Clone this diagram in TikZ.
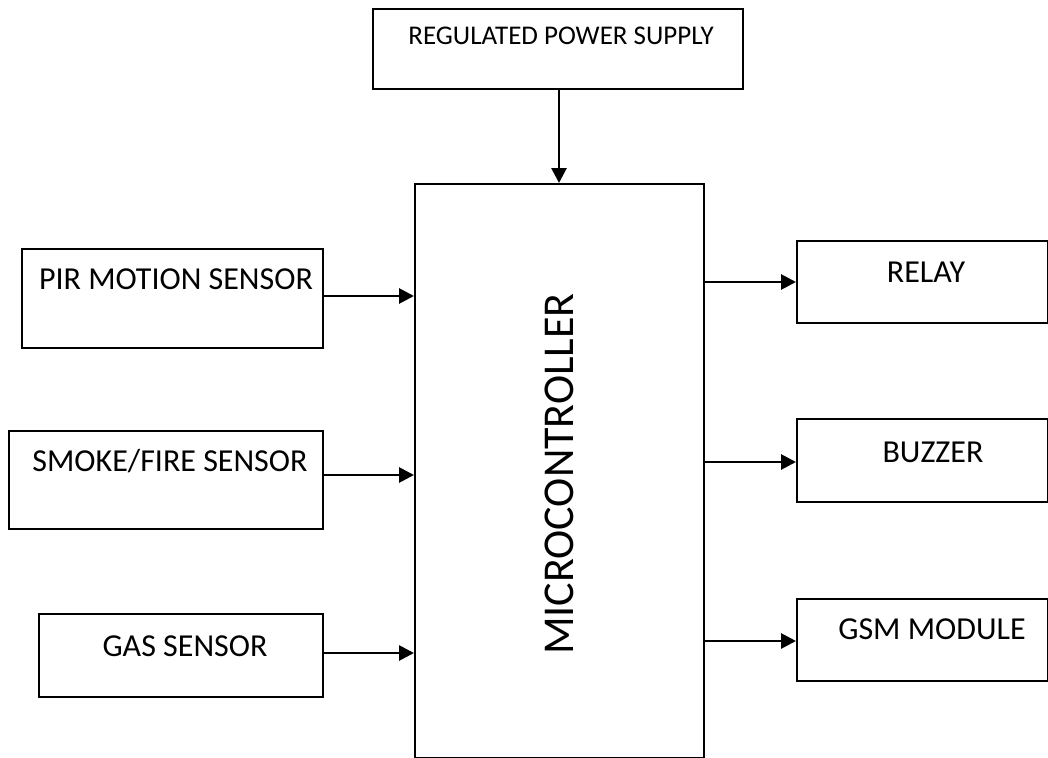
\documentclass[tikz,border=0pt]{standalone}
\usepackage{fontspec}
\setmainfont{Carlito}
\usetikzlibrary{arrows.meta}
\tikzset{
  blk/.style={draw=black, line width=2.4pt, fill=white, inner sep=0pt},
  lbl/.style={anchor=base, inner sep=0pt, font=\fontsize{32}{32}\selectfont},
  arr/.style={line width=2.8pt, -{Triangle[length=15pt,width=15pt]}}
}
\begin{document}
\begin{tikzpicture}[x=1pt,y=-1pt]
\useasboundingbox (0,0) rectangle (1048,757);
% boxes
\node[blk, anchor=north west, minimum width=370pt, minimum height=80pt] (ps) at (372,8) {};
\node[blk, anchor=north west, minimum width=289pt, minimum height=574pt] (mc) at (414,183) {};
\node[blk, anchor=north west, minimum width=301pt, minimum height=99pt] (pir) at (21,248) {};
\node[blk, anchor=north west, minimum width=314pt, minimum height=98pt] (smk) at (8,430) {};
\node[blk, anchor=north west, minimum width=284pt, minimum height=83pt] (gas) at (38,613) {};
\node[blk, anchor=north west, minimum width=251pt, minimum height=82pt] (rel) at (796,240) {};
\node[blk, anchor=north west, minimum width=251pt, minimum height=83pt] (buz) at (796,418) {};
\node[blk, anchor=north west, minimum width=251pt, minimum height=82pt] (gsm) at (796,598) {};
% texts
\node[lbl, font=\fontsize{27}{27}\selectfont] (psT) at (561,45) {REGULATED POWER SUPPLY};
\node[inner sep=0pt, rotate=90, font=\fontsize{44}{44}\selectfont] (mcT) at (559,474) {MICROCONTROLLER};
\node[lbl] (pirT) at (176,289) {PIR MOTION SENSOR};
\node[lbl] (smkT) at (170,471) {SMOKE/FIRE SENSOR};
\node[lbl] (gasT) at (185,656) {GAS SENSOR};
\node[lbl] (relT) at (926,282) {RELAY};
\node[lbl] (buzT) at (933,462) {BUZZER};
\node[lbl] (gsmT) at (932,639) {GSM MODULE};
% connectors
\draw[arr] (ps.south -| 559,0) -- (mc.north -| 559,0);
\draw[arr] (pir.east |- 0,296) -- (mc.west |- 0,296);
\draw[arr] (smk.east |- 0,475) -- (mc.west |- 0,475);
\draw[arr] (gas.east |- 0,653) -- (mc.west |- 0,653);
\draw[arr] (mc.east |- 0,282) -- (rel.west |- 0,282);
\draw[arr] (mc.east |- 0,462) -- (buz.west |- 0,462);
\draw[arr] (mc.east |- 0,641) -- (gsm.west |- 0,641);
\end{tikzpicture}
\end{document}
